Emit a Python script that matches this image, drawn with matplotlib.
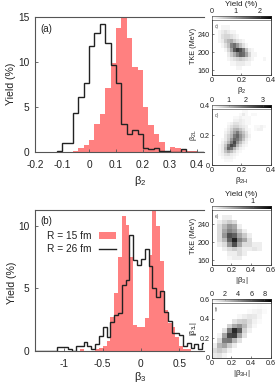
# -*- coding: utf-8 -*-
import numpy as np
import matplotlib
matplotlib.use('Agg')
import matplotlib.pyplot as plt
from matplotlib.patches import Patch
from matplotlib.lines import Line2D

plt.rcParams['font.family'] = ['Liberation Sans', 'DejaVu Sans']
plt.rcParams['mathtext.fontset'] = 'custom'
plt.rcParams['mathtext.rm'] = 'Liberation Sans'
plt.rcParams['mathtext.default'] = 'rm'

# beta2 histograms, bins of 0.02 starting at -0.12
b2_start = -0.12
b2_width = 0.02
b2_r15 = [0, 0, 0, 0.1, 0.4, 0.7, 1.3, 3.1, 4.2, 7.1, 9.9, 13.8, 15.5, 12.7, 9.4, 9.1,
          5.0, 2.9, 1.9, 1.1, 0.1, 0.5, 0.35, 0.2, 0.1, 0.1, 0, 0]
b2_r26 = [0.1, 0.9, 0.9, 4.3, 6.1, 7.6, 11.8, 13.2, 14.2, 12.1, 9.6, 7.6, 3.1, 2.0, 2.4, 1.9,
          0.4, 0.3, 0.4, 0.1, 0.1, 0, 0, 0.3, 0, 0, 0, 0]

# beta3 histograms, bins of 0.05 starting at -1.40
b3_start = -1.40
b3_width = 0.05
b3_r15 = [0, 0, 0, 0, 0, 0, 0, 0, 0, 0, 0, 0, 0.1, 0, 0, 0, 0.1, 0.2, 0.4, 0.8, 2.7, 4.6,
          7.5, 10.8, 10.1, 7.5, 2.1, 1.9, 1.9, 2.6, 7.7, 12.0, 10.0, 7.2, 3.3, 2.2, 1.9, 1.1,
          0.4, 0.1, 0.1, 0, 0, 0, 0]
b3_r26 = [0, 0, 0, 0, 0, 0, 0.3, 0.3, 0.3, 0.1, 0, 0.4, 0.4, 0.7, 0.4, 0.1, 0.5, 1.2, 1.9, 1.1,
          2.3, 2.9, 3.0, 5.3, 5.7, 9.3, 7.3, 6.9, 7.4, 8.2, 6.8, 5.0, 4.3, 4.8, 3.1, 2.4, 1.4,
          1.4, 1.3, 0.4, 0.6, 0.2, 0.5, 0.1, 0.6]

# c) TKE vs beta2, rows from 280 MeV down to 150 MeV
tke_b2 = [
    [0, 0, 0, 0, 0, 0, 0, 0, 0, 0, 0, 0, 0, 0, 0, 0, 0, 0, 0, 0],
    [0, 0, 0, 0, 0, 0, 0, 0, 0, 0, 0, 0, 0, 0, 0, 0, 0, 0, 0, 0],
    [0, 0, 0, .1, .1, .1, 0, 0, 0, 0, 0, 0, 0, 0, 0, 0, 0, 0, 0, 0],
    [0, 0, .1, .2, .3, .2, .1, .1, 0, 0, 0, 0, 0, 0, 0, 0, 0, 0, 0, 0],
    [0, 0, .1, .3, .4, .4, .3, .2, .1, 0, 0, 0, 0, 0, 0, 0, 0, 0, 0, 0],
    [0, 0, .1, .2, .5, .7, .8, .5, .3, .2, .1, 0, 0, 0, 0, 0, 0, 0, 0, 0],
    [0, 0, 0, .1, .3, .6, 1.2, 1.4, 1.0, .6, .3, .1, 0, 0, 0, 0, 0, 0, 0, 0],
    [0, 0, 0, 0, .1, .4, .9, 1.6, 1.9, 1.7, 1.3, .6, .2, .1, 0, 0, 0, 0, 0, 0],
    [0, 0, 0, 0, 0, .2, .5, .8, 1.2, 1.5, 1.4, .9, .4, .1, .1, 0, 0, 0, 0, 0],
    [0, 0, 0, 0, 0, .1, .2, .3, .4, .5, .4, .3, .2, .1, 0, 0, 0, .1, 0, 0],
    [0, 0, 0, 0, 0, 0, .1, .1, .2, .2, .2, .1, .1, 0, 0, 0, 0, 0, 0, 0],
    [0, 0, 0, 0, 0, 0, 0, 0, .1, .1, 0, 0, 0, 0, 0, 0, 0, 0, 0, 0],
    [0, 0, 0, 0, 0, 0, 0, 0, 0, 0, 0, 0, 0, 0, 0, 0, 0, 0, 0, 0],
]

# d) beta2L vs beta2H, rows from 0.4 down to 0
b2l_b2h = [
    [0, 0, 0, 0, 0, 0, 0, 0, 0, 0, 0, 0, 0, 0, 0, 0, 0, 0, 0, 0],
    [0, 0, 0, 0, 0, 0, 0, 0, 0, 0, 0, 0, 0, 0, 0, 0, 0, 0, 0, 0],
    [0, 0, 0, 0, 0, 0, 0, 0, 0, 0, .1, .1, 0, 0, 0, 0, 0, 0, 0, 0],
    [0, 0, 0, 0, 0, 0, 0, 0, 0, .1, .3, .1, 0, .1, .1, 0, 0, 0, 0, 0],
    [0, 0, 0, 0, 0, 0, 0, .1, .1, .2, .1, .1, .1, 0, 0, 0, 0, 0, 0, 0],
    [0, 0, 0, 0, 0, 0, 0, .2, .2, .3, .2, .1, .1, 0, 0, 0, 0, 0, 0, 0],
    [0, 0, 0, 0, 0, .1, .2, .4, .4, .3, .2, .1, .1, 0, 0, 0, 0, 0, 0, 0],
    [0, 0, 0, 0, 0, .2, .4, .6, .6, .4, .3, .2, 0, 0, .1, .1, .2, .1, 0, 0],
    [0, 0, 0, 0, .1, .3, .6, 1.0, 1.1, .8, .5, .2, .1, 0, .1, .2, .2, 0, 0, 0],
    [0, 0, 0, 0, .2, .4, .8, 1.3, 1.8, 1.2, .8, .4, .1, 0, 0, 0, 0, 0, 0, 0],
    [0, 0, 0, 0, .3, .6, 1.0, 1.8, 2.1, 1.5, 1.0, .5, .2, 0, 0, 0, 0, 0, 0, 0],
    [0, 0, 0, .1, .3, .7, 1.4, 2.1, 1.9, 1.4, .8, .3, .1, 0, 0, 0, 0, 0, 0, 0],
    [0, 0, 0, .2, .5, 1.0, 1.8, 2.5, 1.5, .9, .4, .2, 0, 0, 0, 0, 0, 0, 0, 0],
    [0, 0, .1, .3, .8, 1.8, 2.5, 2.2, 1.0, .5, .2, .1, 0, 0, 0, 0, 0, 0, 0, 0],
    [0, 0, .1, .3, 1.0, 2.1, 1.9, 1.0, .5, .2, .1, 0, 0, 0, 0, 0, 0, 0, 0, 0],
    [0, 0, .1, .3, .8, 1.2, .9, .5, .2, .1, 0, 0, 0, 0, 0, 0, 0, 0, 0, 0],
    [0, 0, .1, .2, .4, .5, .3, .2, .1, 0, 0, 0, 0, 0, 0, 0, 0, 0, 0, 0],
    [0, 0, 0, .1, .2, .2, .2, .1, 0, 0, 0, 0, 0, 0, 0, 0, 0, 0, 0, 0],
    [0, 0, 0, 0, .1, .1, .1, 0, 0, 0, 0, 0, 0, 0, 0, 0, 0, 0, 0, 0],
    [0, 0, 0, 0, 0, 0, 0, 0, 0, 0, 0, 0, 0, 0, 0, 0, 0, 0, 0, 0],
]

# e) TKE vs |beta3|, columns of 0.05
tke_b3 = [
    [0, 0, 0, 0, 0, 0, 0, 0, 0, 0, 0, 0],
    [0, 0, 0, 0, 0, 0, 0, 0, 0, 0, 0, 0],
    [0, 0, .1, .1, 0, 0, 0, 0, 0, 0, 0, 0],
    [0, .1, .2, .3, .2, 0, 0, 0, 0, 0, 0, 0],
    [0, .2, .4, .6, .5, .1, 0, 0, 0, 0, 0, 0],
    [0, .2, .5, .7, .6, .3, .1, 0, 0, 0, 0, 0],
    [0, .2, .6, 1.0, .9, .5, .3, .1, 0, 0, 0, 0],
    [0, .2, .4, .9, 1.25, .7, .5, .2, 0, 0, 0, 0],
    [0, .1, .2, .6, 1.0, .5, .2, .2, .1, .1, 0, 0],
    [0, 0, .1, .2, .3, .2, .1, .1, .15, .1, 0, 0],
    [0, 0, 0, .1, .1, .2, .1, 0, 0, 0, 0, 0],
    [0, 0, 0, .05, .1, .1, 0, 0, 0, 0, 0, 0],
    [0, 0, 0, 0, 0, 0, 0, 0, 0, 0, 0, 0],
]

# f) |beta3L| vs |beta3H|, 0.05 cells, rows from 0.6 down to 0
b3l_b3h = [
    [0, 0, 0, 0, 0, 0, 0, 0, 0, 0, 0, 0],
    [0, 0, 0, 0, 0, 0, 0, 0, .1, .2, .1, 0],
    [0, 0, 0, 0, 0, 0, 0, .2, .4, .5, .2, 0],
    [0, 0, 0, 0, 0, .3, .6, .9, .8, .4, 0, 0],
    [0, 0, 0, 0, 1.0, 1.6, 1.8, 1.2, .5, .2, 0, 0],
    [0, 0, 0, 1.5, 3.0, 3.8, 2.4, 1.0, .3, 0, 0, 0],
    [0, 0, 1.0, 4.6, 7.5, 5.8, 1.6, .5, 0, 0, 0, 0],
    [0, .4, 3.2, 6.5, 6.8, 3.2, 1.0, 0, 0, 0, 0, 0],
    [0, 1.4, 4.6, 4.8, 2.6, 1.0, 0, 0, 0, 0, 0, 0],
    [.6, 2.6, 3.2, 1.8, .7, 0, 0, 0, 0, 0, 0, 0],
    [1.3, 1.9, 1.4, .5, 0, 0, 0, 0, 0, 0, 0, 0],
    [.8, 1.0, .4, 0, 0, 0, 0, 0, 0, 0, 0, 0],
]

W, H = 280, 385
RED = '#ff8080'
SPINE = '#555555'
TXT = '#222222'


def px_axes(left, top, right, bottom):
    return fig.add_axes([left / W, 1 - bottom / H, (right - left) / W, (bottom - top) / H])


def hist_panel(ax, start, width, r15, r26):
    edges = start + width * np.arange(len(r15) + 1)
    ax.stairs(r15, edges, fill=True, color=RED, lw=0, zorder=1)
    ax.stairs(r26, edges, color='#222222', lw=1.0, zorder=2)
    ax.spines['right'].set_visible(False)
    for s in ['left', 'top', 'bottom']:
        ax.spines[s].set_color(SPINE)
        ax.spines[s].set_linewidth(0.8)
    ax.tick_params(axis='x', direction='in', length=2, width=0.6, color=SPINE, labelsize=7.3,
                   labelcolor=TXT, pad=6)
    ax.tick_params(axis='y', direction='in', length=2, width=0.6, color=SPINE, labelsize=7.3,
                   labelcolor=TXT, pad=4)


def heat_panel(box, data, xlim, ylim, xticks, yticks, xlabel, ylabel, tag, cticks, vmax, title=None):
    left, top, right, bottom = box
    ax = px_axes(left, top, right, bottom)
    ax.imshow(np.array(data), cmap='gray_r', vmin=0, vmax=vmax, aspect='auto',
              extent=[xlim[0], xlim[1], ylim[0], ylim[1]], interpolation='nearest')
    ax.set_xlim(xlim)
    ax.set_ylim(ylim)
    ax.set_xticks(xticks)
    ax.set_xticklabels([('%g' % t) for t in xticks])
    ax.set_yticks(yticks)
    ax.set_yticklabels([('%g' % t) for t in yticks])
    ax.tick_params(direction='in', length=1.2, width=0.5, color=SPINE, labelsize=5.2,
                   labelcolor=TXT, pad=1.5)
    ax.set_xlabel(xlabel, fontsize=5.8, color=TXT, labelpad=0.5)
    ax.set_ylabel(ylabel, fontsize=5.2, color=TXT, labelpad=0.5)
    for s in ax.spines.values():
        s.set_linewidth(0.6)
        s.set_color('#333333')
    ax.text(0.05, 0.83, tag, transform=ax.transAxes, fontsize=3.5, color='#555555', ha='left', va='center')

    # colour strip along the top edge
    cax = px_axes(left, top, right, top + 3.5)
    cax.imshow(np.linspace(0, 1, 128)[None, :], cmap='gray_r', aspect='auto',
               extent=[0, vmax, 0, 1], interpolation='bilinear')
    cax.set_xlim(0, vmax)
    cax.set_yticks([])
    cax.xaxis.tick_top()
    cax.set_xticks(cticks)
    cax.set_xticklabels([('%g' % t) for t in cticks])
    cax.tick_params(direction='in', length=1, width=0.4, color='#777777', labelsize=5.2,
                    labelcolor=TXT, pad=1)
    for s in cax.spines.values():
        s.set_linewidth(0.4)
        s.set_color('#333333')
    if title:
        fig.text((left + right) / 2 / W, 1 - (top - 11.5) / H, title, fontsize=5.8, color=TXT,
                 ha='center', va='center')
    return ax


fig = plt.figure(figsize=(W / 100, H / 100), dpi=100)

ax = px_axes(35, 17, 204, 151.5)
hist_panel(ax, b2_start, b2_width, b2_r15, b2_r26)
ax.set_xlim(-0.2, 0.426)
ax.set_ylim(0, 15)
ax.set_xticks([-0.2, -0.1, 0, 0.1, 0.2, 0.3, 0.4])
ax.set_xticklabels(['-0.2', '-0.1', '0', '0.1', '0.2', '0.3', '0.4'])
ax.set_yticks([0, 5, 10, 15])
fig.text(140 / W, 1 - 181 / H, 'β$_2$', fontsize=8, color=TXT, ha='center', va='center')
fig.text(11 / W, 1 - 84 / H, 'Yield (%)', fontsize=7.6, color=TXT, rotation=90, ha='center', va='center')
ax.text(0.03, 0.91, '(a)', transform=ax.transAxes, fontsize=7, color=TXT, va='center')

ax = px_axes(35, 210, 204, 350.7)
hist_panel(ax, b3_start, b3_width, b3_r15, b3_r26)
ax.set_xlim(-1.385, 0.825)
ax.set_ylim(0, 11.3)
ax.set_xticks([-1, -0.5, 0, 0.5])
ax.set_xticklabels(['-1', '-0.5', '0', '0.5'])
ax.set_yticks([0, 5, 10])
fig.text(140 / W, 1 - 377.5 / H, 'β$_3$', fontsize=8, color=TXT, ha='center', va='center')
fig.text(12 / W, 1 - 283 / H, 'Yield (%)', fontsize=7.6, color=TXT, rotation=90, ha='center', va='center')
ax.text(0.03, 0.925, '(b)', transform=ax.transAxes, fontsize=7, color=TXT, va='center')
ax.legend(handles=[Patch(color=RED, lw=0, label='R = 15 fm'), Line2D([], [], color='#222222', lw=1.0, label='R = 26 fm')],
          frameon=False, markerfirst=False, fontsize=7.3, loc='upper left', bbox_to_anchor=(0.071, 0.85),
          borderaxespad=0, handlelength=1.7, handletextpad=0.7, labelspacing=0.3, labelcolor=TXT, borderpad=0)

heat_panel((211.7, 16, 271, 75), tke_b2, (0, 0.4), (150, 280), [0, 0.2, 0.4], [160, 200, 240],
           'β$_2$', 'TKE (MeV)', 'c)', [0, 1, 2], 2.45, title='Yield (%)')
heat_panel((211.7, 105, 271, 165.3), b2l_b2h, (0, 0.4), (0, 0.4), [0, 0.2, 0.4], [0, 0.2, 0.4],
           'β$_{2H}$', 'β$_{2L}$', 'd)', [0, 1, 2, 3], 3.5)
heat_panel((211.7, 206, 271, 265), tke_b3, (0, 0.6), (150, 280), [0, 0.2, 0.4, 0.6], [160, 200, 240],
           '|β$_3$|', 'TKE (MeV)', 'e)', [0, 1], 1.45, title='Yield (%)')
heat_panel((211.7, 299, 271, 358), b3l_b3h, (0, 0.6), (0, 0.6), [0, 0.2, 0.4, 0.6], [0, 0.2, 0.4, 0.6],
           '|β$_{3H}$|', '|β$_{3L}$|', 'f)', [0, 2, 4, 6, 8], 9)

fig.savefig('out.png', dpi=100)
